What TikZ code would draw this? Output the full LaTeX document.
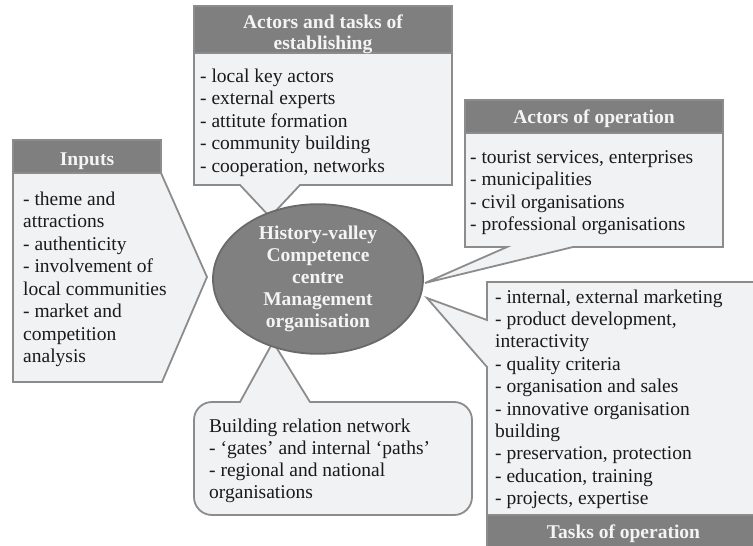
\documentclass[tikz,border=0pt]{standalone}
\usepackage{fontspec}
\setmainfont{Liberation Serif}
\usetikzlibrary{shapes.geometric}
\definecolor{boxfill}{HTML}{F1F2F4}
\definecolor{headfill}{HTML}{7F7F7F}
\definecolor{edgegray}{HTML}{8C8C8C}
\definecolor{headtextcol}{HTML}{F4F4F4}
\definecolor{ellfill}{HTML}{808080}
\definecolor{elledge}{HTML}{6A6A6A}
\definecolor{bodytextcol}{HTML}{1A1A1A}
\tikzset{
  callout/.style={draw=edgegray, fill=boxfill, line width=1.8pt, line join=miter},
  headbar/.style={draw=edgegray, fill=headfill, line width=1.8pt},
  bodytext/.style={anchor=north west, align=left, inner sep=0pt, font=\fontsize{19.5}{22.5}\selectfont, text=bodytextcol},
  headtext/.style={anchor=north, inner sep=0pt, align=center, font=\fontsize{19.5}{21}\selectfont\bfseries, text=headtextcol},
}
\begin{document}
\begin{tikzpicture}[x=1pt,y=-1pt]
\useasboundingbox (0,0) rectangle (753,546);

% --- callout shapes ---
% top: actors and tasks of establishing
\draw[callout] (194,53) -- (452,53) -- (452,185) -- (300,185) -- (270,217) -- (240,185) -- (194,185) -- cycle;
\draw[headbar] (194,6) rectangle (452,53);
% inputs
\draw[callout] (13,173) -- (161,173) -- (207,277) -- (162,382) -- (13,382) -- cycle;
\draw[headbar] (13,140) rectangle (161,173);
% actors of operation
\draw[callout] (465,133) -- (723,133) -- (723,247) -- (573,247) -- (425,283) -- (507,247) -- (465,247) -- cycle;
\draw[headbar] (465,100) rectangle (723,133);
% tasks of operation
\draw[callout] (487,282) -- (760,282) -- (760,515) -- (487,515) -- (487,367) -- (427,298) -- (487,320) -- cycle;
\draw[headbar] (487,515) rectangle (760,552);
% building relation network
\draw[callout] (310,402) -- (454,402) .. controls (464,402) and (472,410) .. (472,420)
  -- (472,497) .. controls (472,507) and (464,515) .. (454,515)
  -- (212,515) .. controls (202,515) and (194,507) .. (194,497)
  -- (194,420) .. controls (194,410) and (202,402) .. (212,402)
  -- (240,402) -- (273,342) -- cycle;

% --- centre ellipse ---
\node[ellipse, draw=elledge, fill=ellfill, line width=1.8pt, minimum width=210pt, minimum height=126pt, inner sep=0pt,
      align=center, text=headtextcol, font=\fontsize{19.5}{22}\selectfont\bfseries] (centre) at (318,279)
  {History-valley\\Competence\\centre\\Management\\organisation};

% --- headers ---
\node[headtext] (hest) at (323,13.3) {\strut Actors and tasks of\\establishing};
\node[headtext] (hin) at (87,150.3) {\strut Inputs};
\node[headtext] (hact) at (594,108.3) {\strut Actors of operation};
\node[headtext] (htask) at (623.5,523.3) {\strut Tasks of operation};

% --- body texts ---
\node[bodytext] (best) at (200,66.25) {\strut- local key actors\\- external experts\\- attitute formation\\- community building\\- cooperation, networks};
\node[bodytext] (bin) at (23,189.25) {\strut- theme and\\attractions\\- authenticity\\- involvement of\\local communities\\- market and\\competition\\analysis};
\node[bodytext] (bact) at (470,147.25) {\strut- tourist services, enterprises\\- municipalities\\- civil organisations\\- professional organisations};
\node[bodytext, font=\fontsize{19.5}{22.4}\selectfont] (btask) at (495,287.3) {\strut- internal, external marketing\\- product development,\\interactivity\\- quality criteria\\- organisation and sales\\- innovative organisation\\building\\- preservation, protection\\- education, training\\- projects, expertise};
\node[bodytext, font=\fontsize{19.5}{22}\selectfont] (bnet) at (209,416.6) {\strut Building relation network\\- ‘gates’ and internal ‘paths’\\- regional and national\\organisations};
\end{tikzpicture}
\end{document}
